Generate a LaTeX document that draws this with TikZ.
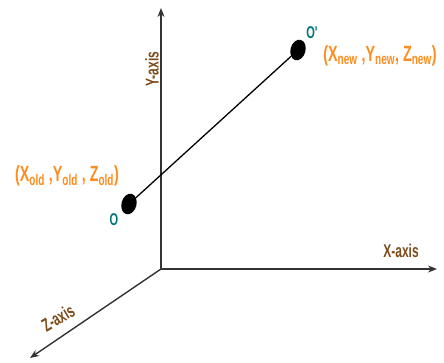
\documentclass[tikz,border=0pt]{standalone}
\usepackage{fontspec}
\usepackage{xcolor}
\usepackage{tikz}
\usetikzlibrary{arrows.meta, positioning, shapes.geometric}
\newfontfamily\lblfont[FakeStretch=0.65]{Liberation Sans}
\definecolor{axbrown}{RGB}{125,75,25}
\definecolor{ptorange}{RGB}{255,140,30}
\definecolor{ptteal}{RGB}{0,120,120}

\begin{document}
\begin{tikzpicture}[
  x=1pt, y=-1pt,
  axis/.style={-{Stealth[length=9pt, width=7pt]}, line width=1.4pt, color=black!80},
  axislbl/.style={font=\lblfont\bfseries\fontsize{18.5}{18.5}\selectfont, text=axbrown, inner sep=0pt},
  dot/.style={ellipse, fill=black, minimum width=15pt, minimum height=21pt, inner sep=0pt},
  ptlbl/.style={font=\lblfont\bfseries\fontsize{17}{17}\selectfont, text=ptteal, inner sep=0pt},
  coordlbl/.style={font=\lblfont\bfseries\fontsize{22}{22}\selectfont, text=ptorange, inner sep=0pt},
]
\useasboundingbox (0,0) rectangle (444,363);

% Axes
\coordinate (orig) at (161,269);
\coordinate (ytip) at (161,8);
\coordinate (xtip) at (437,269);
\coordinate (ztip) at (30,358);
\draw[axis] (orig) -- (ytip);
\draw[axis] (orig) -- (xtip);
\draw[axis] (orig) -- (ztip);

\node[axislbl, rotate=90] (ylbl) at (152,69) {Y-axis};
\node[axislbl] (xlbl) at (401,251) {X-axis};
\node[axislbl, rotate=31] (zlbl) at (58,318) {Z-axis};

% Points
\node[dot, rotate=-15] (O) at (129,204) {};
\node[dot, rotate=-15] (Onew) at (298,50) {};
\draw[line width=1.3pt] (O) -- (Onew);

\node[ptlbl] (Olbl) at (114,220) {O};
\node[ptlbl] (Onewlbl) at (312,33) {O'};

\node[coordlbl] (oldlbl) at (67,176) {(X\textsubscript{old} ,Y\textsubscript{old} , Z\textsubscript{old})};
\node[coordlbl] (newlbl) at (380,56) {(X\textsubscript{new} ,Y\textsubscript{new}, Z\textsubscript{new})};

\end{tikzpicture}
\end{document}
